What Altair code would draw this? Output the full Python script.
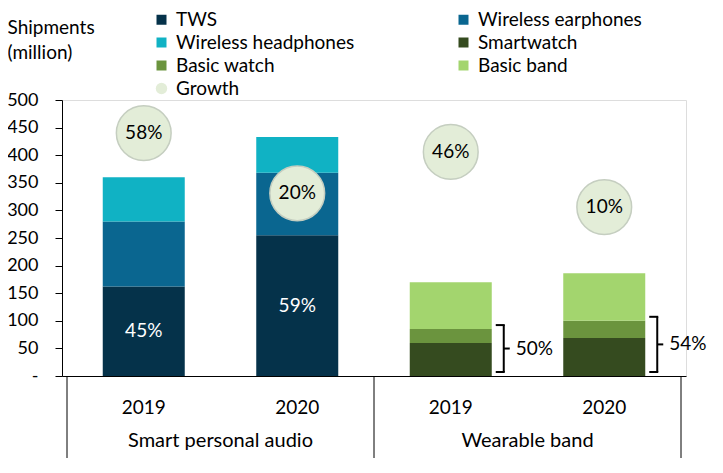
import altair as alt
import pandas as pd

# ---- data ----
years = ["2019", "2020", "2019", "2020"]
groups = ["Smart personal audio", "Wearable band"]
group_edges = [0, 2, 4]
segments = ["TWS", "Wireless earphones", "Wireless headphones",
            "Smartwatch", "Basic watch", "Basic band"]
seg_colors = ["#05324a", "#0a6690", "#10b2c4", "#354b1f", "#6b943e", "#a3d56e"]
# legend fills column by column: this order shows the entries row by row
legend_order = ["TWS", "Wireless headphones", "Basic watch",
                "Wireless earphones", "Smartwatch", "Basic band"]
y_ticks = [0, 50, 100, 150, 200, 250, 300, 350, 400, 450, 500]

tws = [162, 255]
wireless_earphones = [118, 113]
wireless_headphones = [80, 65]
smartwatch = [60, 69]
basic_watch = [25, 31]
basic_band = [85, 86]

tws_share = ["45%", "59%"]
growth = ["58%", "20%", "46%", "10%"]
growth_bubble_y = [440, 331, 406, 306]
watch_share = ["50%", "54%"]

W, H = 624, 276
FONT = "Lato"
FS = 19

# ---- tables ----
rows = []
audio = [tws, wireless_earphones, wireless_headphones]
wear = [smartwatch, basic_watch, basic_band]
for i in range(4):
    series = audio if i < 2 else wear
    names = segments[:3] if i < 2 else segments[3:]
    for k, (nm, s) in enumerate(zip(names, series)):
        rows.append({"pos": i + 0.5, "segment": nm, "value": s[i % 2], "order": k})
bar_df = pd.DataFrame(rows)

color_of = dict(zip(segments, seg_colors))
xs = alt.Scale(domain=[0, 4], nice=False, zero=False)
ys = alt.Scale(domain=[0, 500], nice=False)

xaxis = alt.Axis(labels=False, ticks=False, title=None, grid=False,
                 domainColor="black", domainWidth=1)
yaxis = alt.Axis(values=y_ticks, grid=False, labelOverlap=False, labelBound=False,
                 labelExpr="datum.value == 0 ? '-\u00a0\u00a0\u00a0' : datum.label",
                 labelFontSize=18, labelFont=FONT, labelColor="black",
                 tickSize=7, tickColor="black", domainColor="black",
                 labelPadding=17,
                 title=["Shipments", "(million)"], titleAngle=0,
                 titleAlign="left", titleBaseline="top",
                 titleX=-55, titleY=-82, titleFont=FONT,
                 titleFontSize=FS, titleFontWeight="normal",
                 titleColor="black", titleLineHeight=25)


def X(f):
    return alt.X(f, scale=xs, axis=xaxis)


def Y(f, **kw):
    return alt.Y(f, scale=ys, axis=yaxis, **kw)


bars = alt.Chart(bar_df).mark_bar(orient="vertical", size=82).encode(
    x=X("pos:Q"),
    y=Y("value:Q", stack="zero"),
    color=alt.Color("segment:N",
                    scale=alt.Scale(domain=legend_order,
                                    range=[color_of[s] for s in legend_order]),
                    legend=alt.Legend(orient="none", legendX=90, legendY=-90,
                                      columns=2, title=None, symbolType="square",
                                      symbolSize=100, symbolStrokeWidth=0,
                                      labelFontSize=FS, labelFont=FONT,
                                      labelColor="black", labelOffset=5,
                                      labelLimit=400,
                                      rowPadding=3, columnPadding=99,
                                      padding=0)),
    order=alt.Order("order:Q", sort="ascending"),
)

sep = alt.Chart(pd.DataFrame({"edge": group_edges})).mark_rule(
    color="black", strokeWidth=1).encode(
    x=X("edge:Q"), y=alt.value(H), y2=alt.value(H + 82))

year_df = pd.DataFrame({"pos": [i + 0.5 for i in range(4)], "year": years})
year_txt = alt.Chart(year_df).mark_text(fontSize=FS, font=FONT, color="black").encode(
    x=X("pos:Q"), y=alt.value(H + 32), text="year:N")

grp_df = pd.DataFrame({"name": groups,
                       "c": [(group_edges[0] + group_edges[1]) / 2,
                             (group_edges[1] + group_edges[2]) / 2]})
grp_txt = alt.Chart(grp_df).mark_text(fontSize=FS + 1, font=FONT, color="black").encode(
    x=X("c:Q"), y=alt.value(H + 65), text="name:N")

share_df = pd.DataFrame({"pos": [0.5, 1.5], "tws": tws, "lab": tws_share})
share_txt = alt.Chart(share_df).transform_calculate(mid="datum.tws / 2").mark_text(
    fontSize=FS, font=FONT, color="white").encode(
    x=X("pos:Q"), y=Y("mid:Q"), text="lab:N")

bub_df = pd.DataFrame({"pos": [i + 0.5 for i in range(4)], "by": growth_bubble_y,
                       "lab": growth, "series": ["Growth"] * 4})
bub = alt.Chart(bub_df).mark_point(filled=True, size=3000, fill="#e3edd8",
                                   stroke="#c5cec0", strokeWidth=1.5, opacity=1).encode(
    x=X("pos:Q"), y=Y("by:Q"),
    shape=alt.Shape("series:N", scale=alt.Scale(domain=["Growth"], range=["circle"]),
                    legend=alt.Legend(orient="none", legendX=90, legendY=-21,
                                      title=None, symbolSize=130,
                                      symbolFillColor="#e3edd8",
                                      symbolStrokeColor="#c5cec0",
                                      symbolStrokeWidth=1,
                                      labelFontSize=FS, labelFont=FONT,
                                      labelColor="black", labelOffset=5,
                                      padding=0)))
bub_txt = alt.Chart(bub_df).mark_text(fontSize=FS, font=FONT, color="black").encode(
    x=X("pos:Q"), y=Y("by:Q"), text="lab:N")

br_df = pd.DataFrame({"pos": [2.5, 3.5],
                      "top": [a + b for a, b in zip(smartwatch, basic_watch)],
                      "lab": watch_share})
br = alt.Chart(br_df).transform_calculate(mid="datum.top / 2", zero="0")
vert = br.mark_rule(color="black", strokeWidth=2, xOffset=53, yOffset=-4,
                    y2Offset=-4).encode(
    x=X("pos:Q"), y=Y("top:Q"), y2="zero:Q")
hook_t = br.mark_rule(color="black", strokeWidth=2, xOffset=45, x2Offset=54,
                      yOffset=-4).encode(
    x=X("pos:Q"), x2="pos:Q", y=Y("top:Q"))
hook_b = br.mark_rule(color="black", strokeWidth=2, xOffset=45, x2Offset=54,
                      yOffset=-4).encode(
    x=X("pos:Q"), x2="pos:Q", y=Y("zero:Q"))
hook_m = br.mark_rule(color="black", strokeWidth=2, xOffset=53, x2Offset=59,
                      yOffset=-4).encode(
    x=X("pos:Q"), x2="pos:Q", y=Y("mid:Q"))
br_txt = br.mark_text(fontSize=FS, font=FONT, color="black", align="left",
                      dx=65, dy=-4).encode(
    x=X("pos:Q"), y=Y("mid:Q"), text="lab:N")

chart = alt.layer(bars, sep, year_txt, grp_txt, share_txt, bub, bub_txt,
                  vert, hook_t, hook_b, hook_m, br_txt).resolve_scale(
    color="independent", shape="independent"
).properties(
    width=W, height=H,
    autosize=alt.AutoSizeParams(type="none"),
    padding={"left": 54, "top": 92, "right": 25, "bottom": 85},
).configure_view(stroke=None).configure(font=FONT)

chart.save("out.html", embed_options={"renderer": "svg", "actions": False})
